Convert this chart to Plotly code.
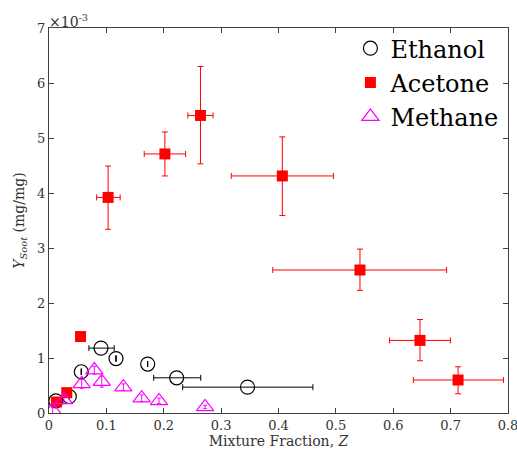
import plotly.graph_objects as go

# Values of Y_soot are in units of 1e-3 mg/mg
eth_x = [0.012, 0.0354, 0.0563, 0.0906, 0.1168, 0.172, 0.2225, 0.346]
eth_y = [0.22, 0.30, 0.75, 1.18, 0.99, 0.89, 0.64, 0.47]
eth_xm = [0.0, 0.0, 0.0, 0.021, 0.0, 0.0, 0.040, 0.113]
eth_xp = [0.0, 0.0, 0.0, 0.023, 0.0, 0.0, 0.042, 0.114]
eth_ye = [0.0, 0.0, 0.06, 0.0, 0.06, 0.0, 0.0, 0.0]

ace_x = [0.013, 0.031, 0.055, 0.103, 0.202, 0.264, 0.4067, 0.542, 0.6466, 0.713]
ace_y = [0.20, 0.37, 1.39, 3.92, 4.71, 5.41, 4.31, 2.60, 1.32, 0.60]
ace_xm = [0.0, 0.0, 0.0, 0.020, 0.036, 0.022, 0.089, 0.152, 0.053, 0.078]
ace_xp = [0.0, 0.0, 0.0, 0.021, 0.036, 0.022, 0.089, 0.151, 0.053, 0.079]
ace_ym = [0.0, 0.0, 0.0, 0.58, 0.40, 0.88, 0.72, 0.37, 0.37, 0.25]
ace_yp = [0.0, 0.0, 0.0, 0.57, 0.40, 0.89, 0.71, 0.38, 0.38, 0.24]

met_x = [0.0064, 0.026, 0.057, 0.079, 0.092, 0.1296, 0.1615, 0.1917, 0.272]
met_y = [0.05, 0.24, 0.53, 0.78, 0.57, 0.47, 0.27, 0.22, 0.11]
met_ye = [0.06, 0.07, 0.08, 0.07, 0.1, 0.06, 0.06, 0.05, 0.03]

x_ticks = [0, 0.1, 0.2, 0.3, 0.4, 0.5, 0.6, 0.7, 0.8]
x_labels = ["0", "0.1", "0.2", "0.3", "0.4", "0.5", "0.6", "0.7", "0.8"]
y_ticks = [0, 1, 2, 3, 4, 5, 6, 7]

FONT = "DejaVu Serif"
AX = "#404040"
TXT = "#333333"

fig = go.Figure()
fig.add_trace(go.Scatter(
    x=eth_x, y=eth_y, mode="markers", name="Ethanol",
    marker=dict(symbol="circle-open", size=14, color="black", line=dict(width=1.2)),
    error_x=dict(type="data", symmetric=False, array=eth_xp, arrayminus=eth_xm,
                 color="black", thickness=1, width=3),
    error_y=dict(type="data", array=eth_ye, color="black", thickness=1, width=0),
))
fig.add_trace(go.Scatter(
    x=ace_x, y=ace_y, mode="markers", name="Acetone",
    marker=dict(symbol="square", size=11, color="#ff0000"),
    error_x=dict(type="data", symmetric=False, array=ace_xp, arrayminus=ace_xm,
                 color="#ff0000", thickness=1, width=3),
    error_y=dict(type="data", symmetric=False, array=ace_yp, arrayminus=ace_ym,
                 color="#ff0000", thickness=1, width=3),
))
fig.add_trace(go.Scatter(
    x=met_x, y=met_y, mode="markers", name="Methane",
    marker=dict(symbol="triangle-up-open", size=15, color="#ff00ff", line=dict(width=1.2)),
    error_y=dict(type="data", array=met_ye, color="#ff00ff", thickness=1, width=2),
))

fig.update_layout(
    width=517, height=458,
    margin=dict(l=49, r=9, t=28, b=45, autoexpand=False),
    paper_bgcolor="white", plot_bgcolor="white",
    font=dict(family=FONT, color=TXT, size=13),
    showlegend=True,
    legend=dict(x=0.99, y=1.005, xanchor="right", yanchor="top",
                font=dict(family=FONT, size=24, color="black"),
                bgcolor="rgba(0,0,0,0)", itemwidth=30, tracegroupgap=0),
    xaxis=dict(range=[0, 0.8], tickvals=x_ticks, ticktext=x_labels, automargin=False,
               ticklabeloverflow="allow",
               ticks="inside", ticklen=5, tickcolor=AX, showline=True, linecolor=AX,
               linewidth=1, mirror="ticks", showgrid=False, zeroline=False,
               tickfont=dict(family=FONT, size=13, color=TXT),
               title=dict(text="Mixture Fraction, <i>Z</i>",
                          font=dict(family=FONT, size=14, color=TXT), standoff=3)),
    yaxis=dict(range=[0, 7], tickvals=y_ticks, automargin=False,
               ticklabeloverflow="allow",
               ticks="inside", ticklen=5, tickcolor=AX, showline=True, linecolor=AX,
               linewidth=1, mirror="ticks", showgrid=False, zeroline=False,
               tickfont=dict(family=FONT, size=13, color=TXT),
               title=dict(text="<i>Y</i><sub><i>Soot</i></sub> (mg/mg)",
                          font=dict(family=FONT, size=14, color=TXT), standoff=9)),
)
fig.add_annotation(xref="paper", yref="paper", x=0, y=1, xanchor="left", yanchor="bottom",
                   text="×10<sup>-3</sup>", showarrow=False, yshift=-4, xshift=-2,
                   font=dict(family=FONT, size=14, color=TXT))

fig.write_html("out.html", config={"displayModeBar": False},
               post_script="document.body.style.margin='0';")
